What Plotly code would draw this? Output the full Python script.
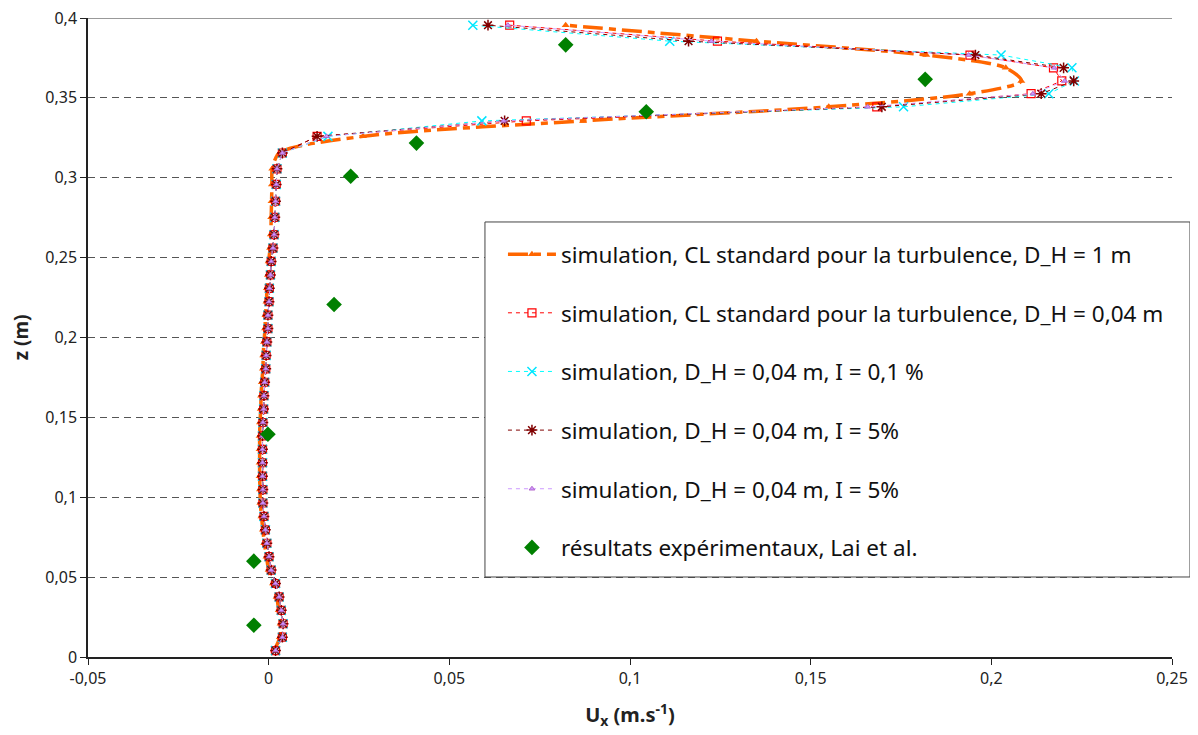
import plotly.graph_objects as go

# heights (m) of the simulated points
z_sim = [0.0040, 0.0124, 0.0208, 0.0292, 0.0376, 0.0460, 0.0544, 0.0628, 0.0712, 0.0796,
         0.0880, 0.0964, 0.1048, 0.1132, 0.1216, 0.1300, 0.1384, 0.1468, 0.1552, 0.1636,
         0.1720, 0.1804, 0.1888, 0.1972, 0.2056, 0.2140, 0.2224, 0.2308, 0.2392, 0.2476,
         0.2560, 0.2644, 0.2752, 0.2853, 0.2958, 0.3056, 0.3155, 0.3259, 0.3356, 0.3444,
         0.3526, 0.3606, 0.3688, 0.3768, 0.3855, 0.3955]

# common part of the profiles (z up to 0.3155)
ux_low = [0.0019, 0.0038, 0.0040, 0.0035, 0.0029, 0.0019, 0.0007, 0.0001, -0.0005, -0.0009,
          -0.0013, -0.0016, -0.0016, -0.0017, -0.0017, -0.0017, -0.0017, -0.0016, -0.0014, -0.0013,
          -0.0011, -0.0008, -0.0007, -0.0005, -0.0002, -0.0002, 0.0001, 0.0002, 0.0005, 0.0007,
          0.0012, 0.0015, 0.0017, 0.0019, 0.0021, 0.0023, 0.0038]

# upper part, one list per series (z from 0.3259 to 0.3955)
ux_top_d004 = [0.0134, 0.0713, 0.1683, 0.2110, 0.2195, 0.2172, 0.1941, 0.1242, 0.0667]
ux_top_i01 = [0.0164, 0.0590, 0.1757, 0.2159, 0.2230, 0.2223, 0.2027, 0.1110, 0.0565]
ux_top_i5a = [0.0134, 0.0653, 0.1697, 0.2138, 0.2228, 0.2200, 0.1956, 0.1162, 0.0607]
ux_top_i5b = [0.0160, 0.0650, 0.1658, 0.2115, 0.2203, 0.2174, 0.1937, 0.1225, 0.0662]

# D_H = 1 m profile
ux_d1 = [0.0015, 0.0031, 0.0033, 0.0028, 0.0022, 0.0012, 0.0000, -0.0006, -0.0012, -0.0016,
         -0.0020, -0.0023, -0.0024, -0.0025, -0.0025, -0.0025, -0.0025, -0.0024, -0.0022, -0.0021,
         -0.0019, -0.0016, -0.0015, -0.0013, -0.0010, -0.0009, -0.0006, -0.0005, -0.0002, 0.0000,
         0.0004, 0.0006, 0.0007, 0.0008, 0.0009, 0.0010, 0.0030, 0.0261, 0.0870, 0.1550,
         0.1940, 0.2083, 0.2040, 0.1820, 0.1350, 0.0822]

# experimental data (Lai et al.)
z_exp = [0.3832, 0.3616, 0.3413, 0.3217, 0.3009, 0.2207, 0.1394, 0.0600, 0.0199]
ux_exp = [0.0822, 0.1817, 0.1045, 0.0409, 0.0227, 0.0181, -0.0002, -0.0041, -0.0041]

names = [
    "simulation, CL standard pour la turbulence, D_H = 1 m",
    "simulation, CL standard pour la turbulence, D_H = 0,04 m",
    "simulation, D_H = 0,04 m, I = 0,1 %",
    "simulation, D_H = 0,04 m, I = 5%",
    "simulation, D_H = 0,04 m, I = 5%",
    "résultats expérimentaux, Lai et al.",
]

x_ticks = [-0.05, 0, 0.05, 0.1, 0.15, 0.2, 0.25]
x_labels = ["-0,05", "0", "0,05", "0,1", "0,15", "0,2", "0,25"]
y_ticks = [0, 0.05, 0.1, 0.15, 0.2, 0.25, 0.3, 0.35, 0.4]
y_labels = ["0", "0,05", "0,1", "0,15", "0,2", "0,25", "0,3", "0,35", "0,4"]

fig = go.Figure()

fig.add_trace(go.Scatter(
    x=ux_d1, y=z_sim, mode="lines+markers", name=names[0], legendgroup="g1",
    line=dict(color="#FF6600", width=3.5, dash="20px,6px,7px,6px", shape="spline", smoothing=0.8),
    marker=dict(symbol="triangle-up", size=7, color="#FF6600"),
))

thin = [
    (ux_top_d004, names[1], "#FF0000", dict(symbol="square-open", size=8, color="#FF0000", line=dict(width=1.2))),
    (ux_top_i01, names[2], "#00FFFF", dict(symbol="x-thin-open", size=9, color="#00E5FF", line=dict(width=1.5, color="#00E5FF"))),
    (ux_top_i5a, names[3], "#800000", dict(symbol="asterisk-open", size=9, color="#800000", line=dict(width=1.5, color="#800000"))),
    (ux_top_i5b, names[4], "#CC99FF", dict(symbol="triangle-up", size=5, color="#CC99FF", line=dict(width=1, color="#B366CC"))),
]
for i, (top, nm, col, mk) in enumerate(thin):
    fig.add_trace(go.Scatter(
        x=ux_low + top, y=z_sim, mode="lines+markers", name=nm, legendgroup=f"g{i + 2}",
        line=dict(color=col, width=1, dash="4px,4px"),
        marker=mk,
    ))

fig.add_trace(go.Scatter(
    x=ux_exp, y=z_exp, mode="markers", name=names[5], legendgroup="g6",
    marker=dict(symbol="diamond", size=12, color="#008000"),
))

# solid border along the top of the plot area
fig.add_shape(type="line", xref="paper", yref="y", x0=0, x1=1, y0=0.4, y1=0.4,
              line=dict(color="#999999", width=2))
# legend frame (white box over the plot)
fig.add_shape(type="rect", xref="paper", yref="paper", x0=0.3662, x1=1.0166, y0=0.1252, y1=0.6808,
              line=dict(color="#444444", width=1), fillcolor="white", layer="above")

fig.update_layout(
    width=1190, height=727,
    margin=dict(l=80, r=26, t=10, b=78),
    paper_bgcolor="white", plot_bgcolor="white",
    font=dict(family="Noto Sans", size=16, color="#222222"),
    legend=dict(
        x=0.3828, y=0.6635, xanchor="left", yanchor="top",
        bgcolor="rgba(0,0,0,0)", borderwidth=0,
        font=dict(size=22.5, color="#111111"),
        tracegroupgap=26.4, traceorder="grouped", itemwidth=48,
    ),
    xaxis=dict(
        range=[-0.05, 0.25], tickvals=x_ticks, ticktext=x_labels,
        showgrid=False, zeroline=False, automargin=False, ticklabeloverflow="allow",
        showline=True, linecolor="#222222", linewidth=1.5,
        ticks="outside", ticklen=6, tickcolor="#222222",
        title=dict(text="<b>U<sub>x</sub> (m.s<sup>-1</sup>)</b>", font=dict(size=20), standoff=20),
    ),
    yaxis=dict(
        range=[0, 0.4], tickvals=y_ticks, ticktext=y_labels,
        showgrid=True, gridcolor="#555555", griddash="7px,5px", gridwidth=1,
        zeroline=False, automargin=False, ticklabeloverflow="allow",
        showline=True, linecolor="#222222", linewidth=1.5,
        ticks="outside", ticklen=6, tickcolor="#222222",
        title=dict(text="<b>z (m)</b>", font=dict(size=19), standoff=12),
    ),
)

fig.write_html("out.html")
